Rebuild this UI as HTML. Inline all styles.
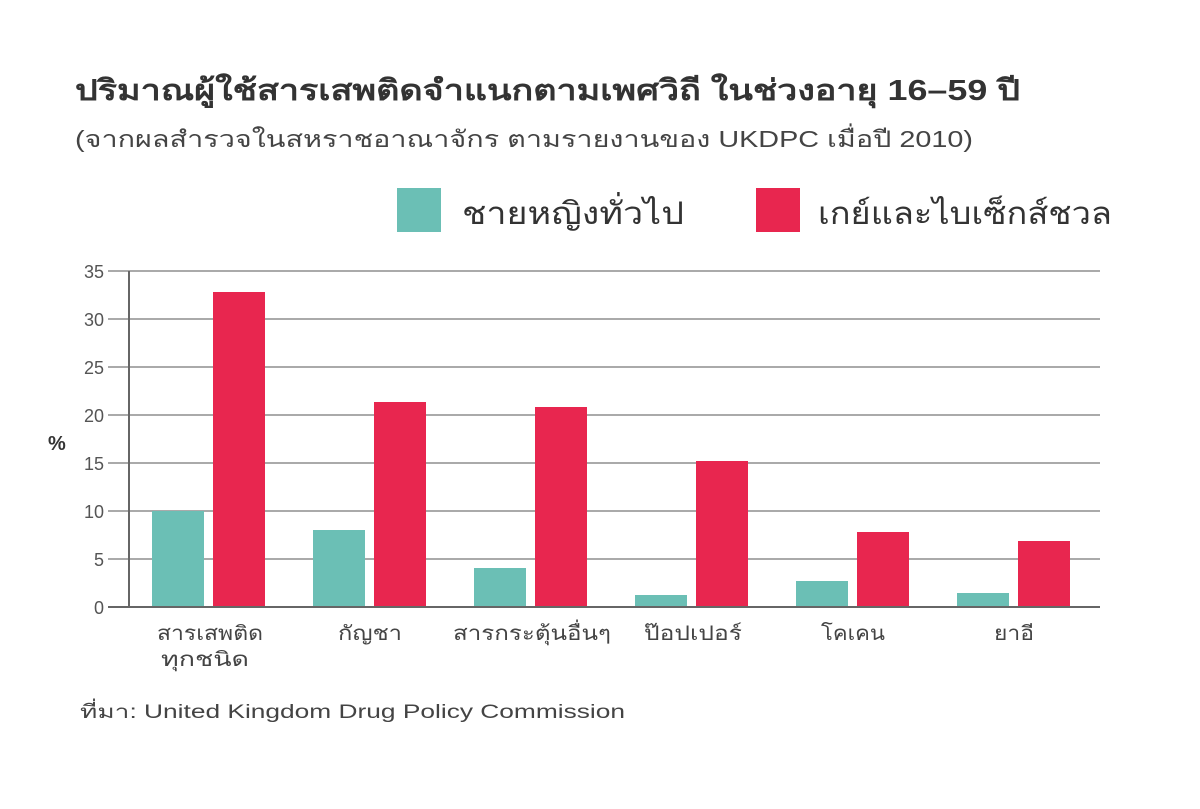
<!DOCTYPE html>
<html><head><meta charset="utf-8"><style>
body{margin:0;background:#fff;}
svg text{font-family:"Liberation Sans","DejaVu Sans",sans-serif;}
</style></head><body>
<svg width="1200" height="804" xmlns="http://www.w3.org/2000/svg">
<rect width="1200" height="804" fill="#fff"/>
<text x="75" y="100" font-size="29" font-weight="bold" fill="#333" textLength="945" lengthAdjust="spacingAndGlyphs">ปริมาณผู้ใช้สารเสพติดจำแนกตามเพศวิถี ในช่วงอายุ 16–59 ปี</text>
<text x="75" y="147" font-size="23" fill="#444" textLength="898" lengthAdjust="spacingAndGlyphs">(จากผลสำรวจในสหราชอาณาจักร ตามรายงานของ UKDPC เมื่อปี 2010)</text>
<rect x="397" y="188" width="44" height="44" fill="#6bbfb5"/>
<text x="462" y="224" font-size="31" fill="#333" textLength="222" lengthAdjust="spacingAndGlyphs">ชายหญิงทั่วไป</text>
<rect x="756" y="188" width="44" height="44" fill="#e8264f"/>
<text x="818" y="224" font-size="31" fill="#333" textLength="294" lengthAdjust="spacingAndGlyphs">เกย์และไบเซ็กส์ชวล</text>
<g stroke="#777" stroke-width="1.3">
<line x1="108" y1="271" x2="1100" y2="271"/>
<line x1="108" y1="319" x2="1100" y2="319"/>
<line x1="108" y1="367" x2="1100" y2="367"/>
<line x1="108" y1="415" x2="1100" y2="415"/>
<line x1="108" y1="463" x2="1100" y2="463"/>
<line x1="108" y1="511" x2="1100" y2="511"/>
<line x1="108" y1="559" x2="1100" y2="559"/>
</g>
<g font-size="18" fill="#555" text-anchor="end">
<text x="104" y="278">35</text><text x="104" y="326">30</text><text x="104" y="374">25</text>
<text x="104" y="422">20</text><text x="104" y="470">15</text><text x="104" y="518">10</text>
<text x="104" y="566">5</text><text x="104" y="614">0</text>
</g>
<text x="48" y="450" font-size="20" font-weight="bold" fill="#333">%</text>
<g fill="#6bbfb5">
<rect x="152" y="511" width="52" height="96"/>
<rect x="313" y="530" width="52" height="77"/>
<rect x="474" y="568" width="52" height="39"/>
<rect x="635" y="595" width="52" height="12"/>
<rect x="796" y="581" width="52" height="26"/>
<rect x="957" y="593" width="52" height="14"/>
</g>
<g fill="#e8264f">
<rect x="213" y="292" width="52" height="315"/>
<rect x="374" y="402" width="52" height="205"/>
<rect x="535" y="407" width="52" height="200"/>
<rect x="696" y="461" width="52" height="146"/>
<rect x="857" y="532" width="52" height="75"/>
<rect x="1018" y="541" width="52" height="66"/>
</g>
<line x1="129" y1="271" x2="129" y2="608" stroke="#666" stroke-width="2"/>
<line x1="108" y1="607" x2="1100" y2="607" stroke="#666" stroke-width="2"/>
<g font-size="20" fill="#444" text-anchor="middle">
<text x="210" y="640" textLength="106" lengthAdjust="spacingAndGlyphs">สารเสพติด</text><text x="205" y="666" textLength="88" lengthAdjust="spacingAndGlyphs">ทุกชนิด</text>
<text x="370" y="640" textLength="64" lengthAdjust="spacingAndGlyphs">กัญชา</text>
<text x="532" y="640" textLength="158" lengthAdjust="spacingAndGlyphs">สารกระตุ้นอื่นๆ</text>
<text x="693" y="640" textLength="98" lengthAdjust="spacingAndGlyphs">ป๊อปเปอร์</text>
<text x="853" y="640" textLength="64" lengthAdjust="spacingAndGlyphs">โคเคน</text>
<text x="1014" y="640" textLength="40" lengthAdjust="spacingAndGlyphs">ยาอี</text>
</g>
<text x="80" y="718" font-size="19" fill="#444" textLength="545" lengthAdjust="spacingAndGlyphs">ที่มา: United Kingdom Drug Policy Commission</text>
</svg>
</body></html>
